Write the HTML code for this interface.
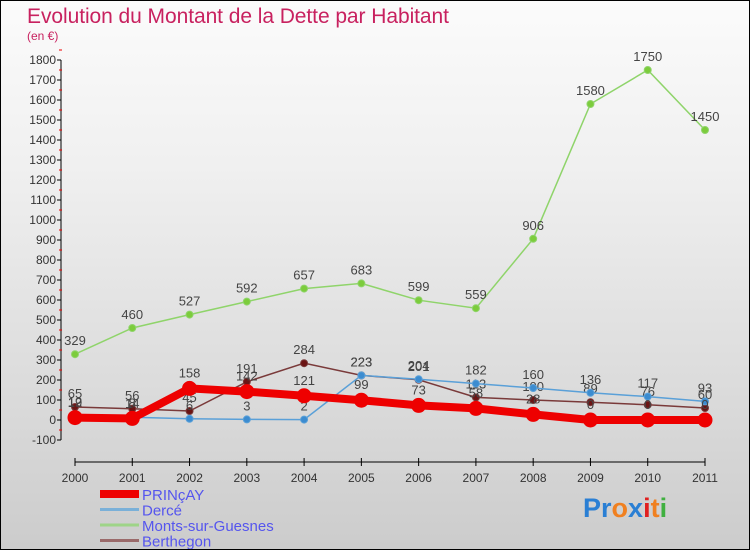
<!DOCTYPE html>
<html><head><meta charset="utf-8"><style>
body{margin:0;width:750px;height:550px;overflow:hidden;font-family:"Liberation Sans",sans-serif}
#wrap{position:relative;width:748px;height:548px;border:1px solid #000;background:linear-gradient(#fbfbfb,#f0f0f0 30%,#d4d4d4 85%,#cccccc)}
</style></head><body>
<div id="wrap">
<svg id="chart" width="748" height="548" style="position:absolute;left:0;top:0"></svg>
</div>
<script>
const years=[2000,2001,2002,2003,2004,2005,2006,2007,2008,2009,2010,2011];
const yTicks=[-100,0,100,200,300,400,500,600,700,800,900,1000,1100,1200,1300,1400,1500,1600,1700,1800];
const seriesNames=["PRINçAY","Dercé","Monts-sur-Guesnes","Berthegon"];
const princay=[12,8,158,142,121,99,73,58,28,0,0,0];
const derce=[19,14,6,3,2,223,204,182,160,136,117,93];
const monts=[329,460,527,592,657,683,599,559,906,1580,1750,1450];
const berthegon=[65,56,45,191,284,223,201,113,100,89,76,60];
const NS="http://www.w3.org/2000/svg";
const svg=document.getElementById('chart');
const X0=74,X1=704,Y0=419,PER=0.2;
const xs=i=>X0+i*(X1-X0)/(years.length-1);
const ys=v=>Y0-v*PER;
function mk(t,a,p){const e=document.createElementNS(NS,t);for(const k in a)e.setAttribute(k,a[k]);(p||svg).appendChild(e);return e;}
let t=mk('text',{x:26,y:22,fill:'#c8215f','font-size':21,textLength:422});t.textContent='Evolution du Montant de la Dette par Habitant';

t=mk('text',{x:26,y:39,fill:'#c8215f','font-size':12});t.textContent='(en €)';

let ax=mk('line',{x1:X0-14,y1:ys(-100),x2:X0-14,y2:ys(1800),stroke:'#000','stroke-width':1});

yTicks.forEach(v=>{
 mk('line',{x1:X0-18,y1:ys(v),x2:X0-14,y2:ys(v),stroke:'#000'});
 mk('line',{x1:X0-16,y1:ys(v+50),x2:X0-13,y2:ys(v+50),stroke:'#e00'});
 const l=mk('text',{x:X0-19,y:ys(v)+4,'text-anchor':'end','font-size':12,fill:'#333'});l.textContent=v;
 
});
ax=mk('line',{x1:X0,y1:ys(-100)+22,x2:X1,y2:ys(-100)+22,stroke:'#000'});

years.forEach((y,i)=>{
 mk('line',{x1:xs(i),y1:ys(-100)+18,x2:xs(i),y2:ys(-100)+26,stroke:'#000'});
 const l=mk('text',{x:xs(i),y:ys(-100)+42,'text-anchor':'middle','font-size':12,fill:'#333'});l.textContent=y;
 
});
function series(data,color,w,r,ptFill,name,labelDy){
 const g=mk('g',{});
 const p=mk('polyline',{points:data.map((v,i)=>xs(i)+','+ys(v)).join(' '),fill:'none',stroke:color,'stroke-width':w},g);
 
 data.forEach((v,i)=>{
  const c=mk('circle',{cx:xs(i),cy:ys(v),r:r,fill:ptFill,stroke:color,'stroke-width':1},g);
  
  const l=mk('text',{x:xs(i),y:ys(v)-labelDy,'text-anchor':'middle','font-size':13,fill:'#444'},g);l.textContent=v;
  
 });
}
series(monts,'#8fd46a',1.5,3.5,'#7ccc3c','monts-sur-guesnes',9);
series(berthegon,'#7a3a3a',1.5,3.5,'#6b1414','berthegon',9);
series(derce,'#5aa0d8',1.5,3.5,'#3c8cd0','derce',9);
series(princay,'#ee0000',8,7,'#ee0000','princay',11);
const leg=[[seriesNames[0],'#ee0000',8],[seriesNames[1],'#7ab0d8',3],[seriesNames[2],'#9ed488',3],[seriesNames[3],'#9a6a6a',3]];
leg.forEach((e,i)=>{
 const y=493+i*15.5;
 const l=mk('line',{x1:99,y1:y,x2:138,y2:y,stroke:e[1],'stroke-width':e[2]});
 
 const tx=mk('text',{x:141,y:y+6,'font-size':15,fill:'#5555ee'});tx.textContent=e[0];
 
});
const logo=mk('text',{x:582,y:516,'font-size':27,'font-weight':'bold'});

[['Pr','#2a7fd4'],['o','#f08020'],['x','#2a7fd4'],['i','#e02020'],['t','#f08020'],['i','#40b040']].forEach(s=>{const ts=mk('tspan',{fill:s[1]},logo);ts.textContent=s[0];});
</script>
</body></html>
